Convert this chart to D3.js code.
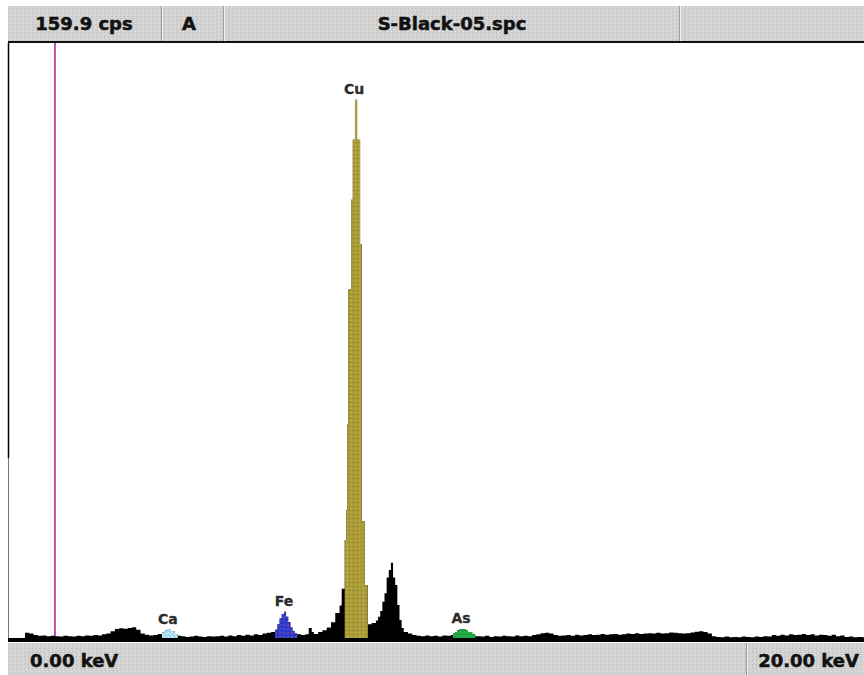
<!DOCTYPE html>
<html>
<head>
<meta charset="utf-8">
<script src="https://cdn.jsdelivr.net/npm/d3@7"></script>
<style>
  body { margin: 0; background: #fff; }
  svg { display: block; }
  text { font-family: "DejaVu Sans", sans-serif; font-weight: bold; }
</style>
</head>
<body>
<svg id="chart"></svg>
<script>
const width = 864;
const height = 675;

// header / footer texts
const fullScale = 159.9;
const headerCells = ["159.9 cps", "A", "S-Black-05.spc", ""];
const axisLabels = ["0.00 keV", "20.00 keV"];
const energyRange = [0, 20];

// element markers: name, line energy (keV), region of interest
const elements = ["Ca", "Fe", "Cu", "As"];
const lineEnergy = [3.69, 6.40, 8.04, 10.54];
const roiStart = [3.55, 6.19, 7.82, 10.35];
const roiEnd = [3.92, 6.71, 8.36, 10.87];

// marker cursor (keV)
const cursorEnergy = 1.05;

// spectrum: [keV, cps], step after
const spectrum = [
  [0.30, 0.0], [0.35, 2.2], [0.45, 2.0], [0.55, 1.6], [0.65, 1.4], [0.75, 1.5],
  [0.85, 1.3], [0.95, 1.4], [1.05, 1.3], [1.15, 1.2], [1.25, 1.4], [1.35, 1.3],
  [1.45, 1.2], [1.55, 1.4], [1.65, 1.3], [1.75, 1.5], [1.85, 1.4], [1.95, 1.6],
  [2.05, 1.5], [2.15, 1.8], [2.25, 2.0], [2.35, 2.6], [2.45, 3.2], [2.55, 3.4],
  [2.65, 3.3], [2.75, 3.5], [2.85, 3.7], [2.95, 3.0], [3.05, 2.0], [3.15, 1.7],
  [3.25, 1.5], [3.35, 1.6], [3.45, 1.9], [3.55, 2.3], [3.62, 2.8], [3.68, 3.0],
  [3.76, 2.7], [3.84, 1.9], [3.92, 1.4], [4.0, 1.3], [4.1, 1.1], [4.2, 1.2],
  [4.3, 1.4], [4.4, 1.2], [4.5, 1.1], [4.6, 1.3], [4.7, 1.2], [4.8, 1.3],
  [4.9, 1.4], [5.0, 1.2], [5.1, 1.5], [5.2, 1.3], [5.3, 1.6], [5.4, 1.4],
  [5.5, 1.7], [5.6, 1.5], [5.7, 1.8], [5.8, 1.6], [5.9, 2.0], [6.0, 2.2],
  [6.1, 2.4], [6.19, 3.0], [6.25, 4.5], [6.3, 6.0], [6.35, 7.2], [6.4, 7.8],
  [6.45, 6.5], [6.5, 5.0], [6.55, 3.6], [6.6, 2.6], [6.65, 2.0], [6.71, 1.8],
  [6.8, 1.6], [6.9, 1.8], [6.98, 3.5], [7.05, 2.4], [7.1, 1.9], [7.2, 2.4],
  [7.3, 2.9], [7.4, 3.6], [7.5, 5.0], [7.6, 7.5], [7.7, 9.5], [7.75, 14.0],
  [7.82, 27], [7.86, 35], [7.88, 58], [7.90, 94], [7.97, 118], [8.01, 134],
  [8.06, 144.7], [8.11, 134], [8.18, 106], [8.22, 32], [8.29, 15], [8.36, 4.5],
  [8.45, 4.8], [8.55, 5.5], [8.6, 6.5], [8.65, 8.0], [8.7, 10.5], [8.75, 12.8],
  [8.8, 17], [8.85, 19], [8.9, 20.9], [8.95, 17], [9.0, 15], [9.05, 9.6],
  [9.1, 5.6], [9.15, 3.5], [9.2, 2.4], [9.3, 2.0], [9.4, 1.6], [9.5, 1.4],
  [9.6, 1.3], [9.7, 1.5], [9.8, 1.3], [9.9, 1.4], [10.0, 1.2], [10.1, 1.5],
  [10.2, 1.4], [10.3, 1.6], [10.35, 2.0], [10.4, 2.4], [10.45, 2.9], [10.5, 3.2],
  [10.55, 3.1], [10.6, 3.2], [10.65, 2.8], [10.7, 2.4], [10.8, 1.8], [10.87, 1.3],
  [11.0, 1.2], [11.1, 1.4], [11.2, 1.1], [11.3, 1.3], [11.4, 1.2], [11.5, 1.4],
  [11.6, 1.3], [11.7, 1.2], [11.8, 1.5], [11.9, 1.3], [12.0, 1.4], [12.1, 1.3],
  [12.2, 1.6], [12.3, 1.8], [12.4, 2.1], [12.5, 2.2], [12.6, 2.0], [12.7, 1.6],
  [12.8, 1.4], [12.9, 1.5], [13.0, 1.6], [13.1, 1.4], [13.2, 1.7], [13.3, 1.5],
  [13.4, 1.6], [13.5, 1.8], [13.6, 1.6], [13.7, 1.7], [13.8, 1.9], [13.9, 1.7],
  [14.0, 1.8], [14.1, 1.9], [14.2, 1.7], [14.3, 1.8], [14.4, 2.0], [14.5, 1.9],
  [14.6, 2.1], [14.7, 1.9], [14.8, 2.0], [14.9, 2.1], [15.0, 2.0], [15.1, 2.2],
  [15.2, 2.0], [15.3, 2.1], [15.4, 2.3], [15.5, 2.2], [15.6, 2.1], [15.7, 2.0],
  [15.8, 2.1], [15.9, 2.3], [16.0, 2.5], [16.1, 2.6], [16.2, 2.4], [16.3, 2.0],
  [16.4, 1.3], [16.5, 1.1], [16.6, 1.0], [16.7, 1.2], [16.8, 1.0], [16.9, 1.1],
  [17.0, 1.0], [17.1, 1.2], [17.2, 1.1], [17.3, 1.0], [17.4, 1.2], [17.5, 1.1],
  [17.6, 1.3], [17.7, 1.2], [17.8, 1.6], [17.9, 1.4], [18.0, 1.7], [18.1, 1.5],
  [18.2, 1.8], [18.3, 1.6], [18.4, 1.7], [18.5, 1.9], [18.6, 1.6], [18.7, 1.8],
  [18.8, 1.5], [18.9, 1.7], [19.0, 1.6], [19.1, 1.4], [19.2, 1.7], [19.3, 1.3],
  [19.4, 1.5], [19.5, 1.1], [19.6, 1.2], [19.7, 1.0], [19.8, 1.1], [19.9, 1.0],
  [20.0, 1.0]
];

const svg = d3.select("#chart")
  .attr("width", width)
  .attr("height", height);

const plotTop = 43, plotBottom = 641, plotLeft = 8;
const headerTop = 6, footerTop = 643;

const x = d3.scaleLinear().domain(energyRange).range([10, 866]);
const y = d3.scaleLinear().domain([0, fullScale]).range([plotBottom, plotTop]);

// dithered fills
const defs = svg.append("defs");
function dither(id, base, dots) {
  const p = defs.append("pattern")
    .attr("id", id)
    .attr("width", 4).attr("height", 4)
    .attr("patternUnits", "userSpaceOnUse");
  p.append("rect").attr("width", 4).attr("height", 4).attr("fill", base);
  dots.forEach(d => p.append("rect")
    .attr("x", d[0]).attr("y", d[1]).attr("width", 1).attr("height", 1).attr("fill", d[2]));
}
dither("grey", "#d2d2d2", [[0, 0, "#bdbdbd"], [2, 1, "#e4e4e4"], [1, 2, "#c4c4c4"], [3, 3, "#e0e0e0"], [3, 0, "#c8c8c8"]]);
dither("roi-Ca", "#a8dcf4", [[0, 0, "#ffffff"], [2, 2, "#ffffff"], [1, 3, "#6fb8e8"]]);
dither("roi-Fe", "#2c3ccc", [[0, 0, "#d83a5a"], [3, 1, "#4a58e8"], [1, 3, "#2028a8"]]);
dither("roi-Cu", "#ab9e38", [[0, 0, "#8ea63a"], [2, 2, "#92a83a"], [1, 2, "#b8603a"], [3, 0, "#c6b44a"]]);
dither("roi-As", "#26a846", [[0, 0, "#14c83c"], [2, 2, "#1a8a30"]]);

// header bar
svg.append("rect")
  .attr("x", plotLeft).attr("y", headerTop)
  .attr("width", width - plotLeft).attr("height", plotTop - headerTop)
  .attr("fill", "url(#grey)");

const cellEdges = [plotLeft, 162, 224, 680, width];
const cellCenters = [84, 189, 452, 772];
cellEdges.slice(1, -1).forEach(cx => {
  svg.append("line")
    .attr("x1", cx - 0.5).attr("x2", cx - 0.5)
    .attr("y1", headerTop).attr("y2", plotTop - 1)
    .attr("stroke", "#9a9a9a");
  svg.append("line")
    .attr("x1", cx + 0.5).attr("x2", cx + 0.5)
    .attr("y1", headerTop).attr("y2", plotTop - 1)
    .attr("stroke", "#f2f2f2");
});

svg.selectAll("text.head")
  .data(headerCells)
  .enter()
  .append("text")
  .attr("class", "head")
  .attr("x", (d, i) => cellCenters[i])
  .attr("y", 30)
  .attr("text-anchor", "middle")
  .attr("font-size", 18)
  .attr("fill", "#111")
  .attr("stroke", "#111")
  .attr("stroke-width", 0.5)
  .text(d => d);

svg.append("rect")
  .attr("x", plotLeft).attr("y", plotTop - 2)
  .attr("width", width - plotLeft).attr("height", 2)
  .attr("fill", "#111");

// plot area
svg.append("rect")
  .attr("x", plotLeft + 1).attr("y", plotTop)
  .attr("width", width - plotLeft).attr("height", plotBottom - plotTop)
  .attr("fill", "#fff");

svg.append("line")
  .attr("x1", plotLeft + 0.5).attr("x2", plotLeft + 0.5)
  .attr("y1", plotTop).attr("y2", plotBottom)
  .attr("stroke", "#777");
svg.append("line")
  .attr("x1", plotLeft + 0.5).attr("x2", plotLeft + 0.5)
  .attr("y1", plotTop).attr("y2", 458)
  .attr("stroke", "#000").attr("stroke-width", 1.5);

// cursor
svg.append("line")
  .attr("x1", x(cursorEnergy)).attr("x2", x(cursorEnergy))
  .attr("y1", plotTop).attr("y2", plotBottom)
  .attr("stroke", "#c04fb0").attr("stroke-width", 2);

// spectrum
const area = d3.area()
  .x(d => x(d[0]))
  .y0(y(0))
  .y1(d => y(d[1]))
  .curve(d3.curveStepAfter);

svg.append("path")
  .datum(spectrum)
  .attr("d", area)
  .attr("fill", "#000");

// regions of interest
elements.forEach((el, i) => {
  defs.append("clipPath")
    .attr("id", "clip-" + el)
    .append("rect")
    .attr("x", x(roiStart[i])).attr("y", plotTop)
    .attr("width", x(roiEnd[i]) - x(roiStart[i]))
    .attr("height", plotBottom - plotTop);
  svg.append("path")
    .datum(spectrum)
    .attr("d", area)
    .attr("fill", "url(#roi-" + el + ")")
    .attr("clip-path", "url(#clip-" + el + ")");
});

// element labels
svg.selectAll("text.el")
  .data(elements)
  .enter()
  .append("text")
  .attr("class", "el")
  .attr("x", (d, i) => x(lineEnergy[i]))
  .attr("y", (d, i) => {
    const peak = d3.max(spectrum.filter(p => p[0] >= roiStart[i] && p[0] <= roiEnd[i]), p => p[1]);
    return y(peak) - 6;
  })
  .attr("text-anchor", "middle")
  .attr("font-size", 14)
  .attr("fill", "#2a2a2a")
  .attr("stroke", "#2a2a2a")
  .attr("stroke-width", 0.3)
  .text(d => d);

// baseline
svg.append("rect")
  .attr("x", plotLeft).attr("y", plotBottom - 3)
  .attr("width", width - plotLeft).attr("height", 4)
  .attr("fill", "#000");

// footer bar
svg.append("rect")
  .attr("x", plotLeft).attr("y", footerTop)
  .attr("width", width - plotLeft).attr("height", height - footerTop)
  .attr("fill", "url(#grey)");
svg.append("line")
  .attr("x1", 746.5).attr("x2", 746.5)
  .attr("y1", footerTop).attr("y2", height)
  .attr("stroke", "#9a9a9a");
svg.append("line")
  .attr("x1", 747.5).attr("x2", 747.5)
  .attr("y1", footerTop).attr("y2", height)
  .attr("stroke", "#f2f2f2");

svg.selectAll("text.foot")
  .data(axisLabels)
  .enter()
  .append("text")
  .attr("class", "foot")
  .attr("x", (d, i) => i === 0 ? 30 : 859)
  .attr("y", 667)
  .attr("text-anchor", (d, i) => i === 0 ? "start" : "end")
  .attr("font-size", 18)
  .attr("fill", "#111")
  .attr("stroke", "#111")
  .attr("stroke-width", 0.5)
  .text(d => d);
</script>
</body>
</html>
